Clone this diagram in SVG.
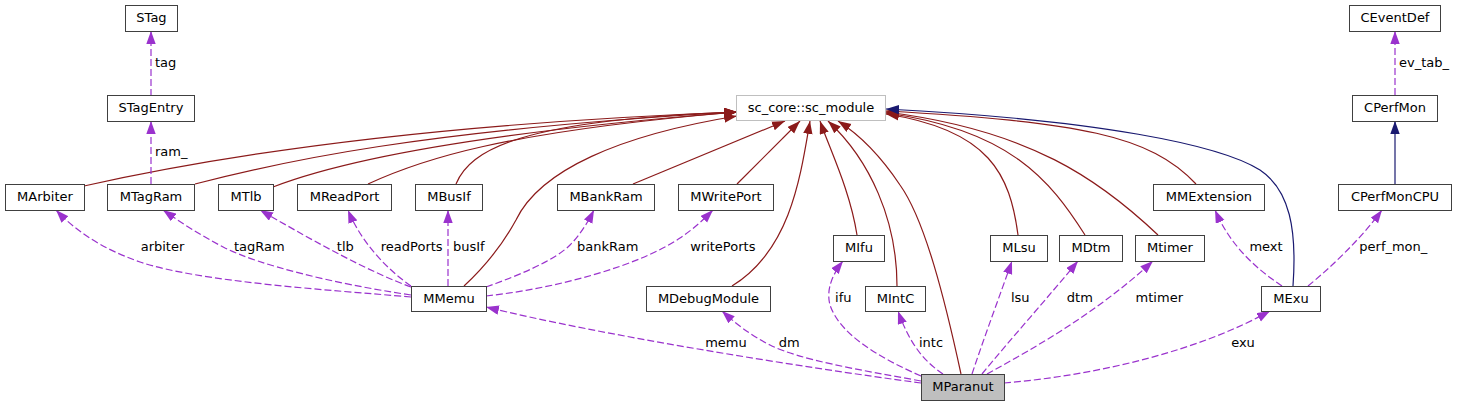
<svg xmlns="http://www.w3.org/2000/svg" width="1457" height="407" viewBox="0 0 1457 407">
<style>
.n rect{fill:#fff;stroke:#404040;stroke-width:1}
.n text,.lbl{font-family:"DejaVu Sans",Verdana,sans-serif;font-size:13px;fill:#000}
.n text{text-anchor:middle}
.lbl{text-anchor:middle}
.ls{text-anchor:start}
.inh{fill:none;stroke:#8b1a1a;stroke-width:1.2;marker-end:url(#ar)}
.pub{fill:none;stroke:#191970;stroke-width:1.2;marker-end:url(#ab)}
.use{fill:none;stroke:#9a32cd;stroke-width:1.2;stroke-dasharray:7,3;marker-end:url(#ap)}
</style>
<defs>
<marker id="ar" markerUnits="userSpaceOnUse" markerWidth="14" markerHeight="10" refX="13" refY="4.7" orient="auto"><path d="M0,0 L13,4.7 L0,9.4 z" fill="#8b1a1a"/></marker>
<marker id="ab" markerUnits="userSpaceOnUse" markerWidth="14" markerHeight="10" refX="13" refY="4.7" orient="auto"><path d="M0,0 L13,4.7 L0,9.4 z" fill="#191970"/></marker>
<marker id="ap" markerUnits="userSpaceOnUse" markerWidth="14" markerHeight="10" refX="13" refY="4.7" orient="auto"><path d="M0,0 L13,4.7 L0,9.4 z" fill="#9a32cd"/></marker>
</defs>
<rect width="1457" height="407" fill="#fff"/>
<g id="connectors">
<path class="inh" d="M84,186 C200,160 400,125 737,112"/>
<path class="inh" d="M195,184 C280,162 420,130 737,112"/>
<path class="inh" d="M273,187 C330,165 450,135 737,112"/>
<path class="inh" d="M368,184 C420,160 500,132 737,112"/>
<path class="inh" d="M456,184 C470,150 520,120 737,112"/>
<path class="inh" d="M464,286 C490,262 505,240 516,220 C540,170 620,135 737,116"/>
<path class="inh" d="M633,184 L785,121"/>
<path class="inh" d="M737,184 L800,121"/>
<path class="inh" d="M732,286 C790,250 800,180 810,121"/>
<path class="inh" d="M857,235 C850,190 830,150 820,121"/>
<path class="inh" d="M897,286 C897,220 870,160 828,121"/>
<path class="inh" d="M961,374 C945,300 925,220 900,185 C880,155 860,135 838,121"/>
<path class="inh" d="M1018,235 C1010,175 990,130 886,114"/>
<path class="inh" d="M1085,235 C1050,180 1010,130 886,113"/>
<path class="inh" d="M1158,235 C1100,180 1030,130 886,112"/>
<path class="inh" d="M1196,184 C1150,135 1080,122 886,111"/>
<path class="pub" d="M1293,286 C1297,230 1290,190 1260,170 C1220,145 1100,120 886,109"/>
<path class="pub" d="M1395,184 L1395,121"/>
<path class="use" d="M151,96 L151,31"/>
<path class="use" d="M151,184 L151,121"/>
<path class="use" d="M1395,95 L1395,31"/>
<path class="use" d="M411,297 C330,290 200,282 140,262 C100,248 75,230 56,210"/>
<path class="use" d="M411,295 C330,283 260,265 225,248 C200,235 180,222 163,210"/>
<path class="use" d="M411,287 C370,272 320,245 260,210"/>
<path class="use" d="M411,286 C385,268 360,240 348,210"/>
<path class="use" d="M448,286 L448,210"/>
<path class="use" d="M486,287 C520,275 555,260 570,245 C580,235 588,222 594,210"/>
<path class="use" d="M486,296 C560,288 640,265 680,238 C695,228 705,218 713,210"/>
<path class="use" d="M921,383 C800,367 600,335 486,307"/>
<path class="use" d="M921,381 C860,370 800,360 770,345 C750,335 735,323 722,311"/>
<path class="use" d="M921,376 C880,358 840,335 830,305 C826,290 832,275 843,261"/>
<path class="use" d="M943,374 C925,362 910,345 898,311"/>
<path class="use" d="M972,374 C985,335 1000,295 1012,261"/>
<path class="use" d="M982,374 C1010,340 1050,295 1078,261"/>
<path class="use" d="M987,374 C1040,345 1100,310 1153,261"/>
<path class="use" d="M1004,383 C1100,375 1200,350 1270,311"/>
<path class="use" d="M1282,286 C1255,268 1230,245 1215,210"/>
<path class="use" d="M1308,286 C1330,268 1360,240 1382,210"/>
<text class="lbl ls" x="155" y="67">tag</text>
<text class="lbl ls" x="155" y="156">ram_</text>
<text class="lbl ls" x="1399" y="67">ev_tab_</text>
<text class="lbl" x="162.5" y="251">arbiter</text>
<text class="lbl" x="259.3" y="251">tagRam</text>
<text class="lbl" x="345.3" y="251">tlb</text>
<text class="lbl" x="411.7" y="251">readPorts</text>
<text class="lbl" x="468.8" y="251">busIf</text>
<text class="lbl" x="607.7" y="251">bankRam</text>
<text class="lbl" x="722.8" y="251">writePorts</text>
<text class="lbl" x="726" y="347">memu</text>
<text class="lbl" x="789.3" y="347">dm</text>
<text class="lbl" x="843.3" y="302">ifu</text>
<text class="lbl" x="931" y="347">intc</text>
<text class="lbl" x="1020.3" y="302">lsu</text>
<text class="lbl" x="1079.8" y="302">dtm</text>
<text class="lbl" x="1159.3" y="302">mtimer</text>
<text class="lbl" x="1243" y="347">exu</text>
<text class="lbl" x="1266" y="251">mext</text>
<text class="lbl" x="1393.3" y="251">perf_mon_</text>
</g>
<g id="STag" class="n"><rect x="125.5" y="5.5" width="52" height="26"/><text x="151.5" y="22">STag</text></g>
<g id="STagEntry" class="n"><rect x="107.5" y="95.5" width="87" height="26"/><text x="151" y="112">STagEntry</text></g>
<g id="sc_module" class="n"><rect x="736.5" y="95.5" width="149" height="25" style="stroke:#bfbfbf"/><text x="811" y="112">sc_core::sc_module</text></g>
<g id="CEventDef" class="n"><rect x="1349.5" y="5.5" width="91" height="26"/><text x="1395" y="22">CEventDef</text></g>
<g id="CPerfMon" class="n"><rect x="1352.5" y="95.5" width="85" height="26"/><text x="1395" y="112">CPerfMon</text></g>
<g id="MArbiter" class="n"><rect x="5.5" y="184.5" width="79" height="26"/><text x="45" y="201">MArbiter</text></g>
<g id="MTagRam" class="n"><rect x="107.5" y="184.5" width="87" height="26"/><text x="151" y="201">MTagRam</text></g>
<g id="MTlb" class="n"><rect x="218.5" y="184.5" width="55" height="26"/><text x="246" y="201">MTlb</text></g>
<g id="MReadPort" class="n"><rect x="297.5" y="184.5" width="94" height="26"/><text x="344.5" y="201">MReadPort</text></g>
<g id="MBusIf" class="n"><rect x="415.5" y="184.5" width="67" height="26"/><text x="449" y="201">MBusIf</text></g>
<g id="MBankRam" class="n"><rect x="557.5" y="184.5" width="97" height="26"/><text x="606" y="201">MBankRam</text></g>
<g id="MWritePort" class="n"><rect x="678.5" y="184.5" width="95" height="26"/><text x="726" y="201">MWritePort</text></g>
<g id="MMExtension" class="n"><rect x="1153.5" y="184.5" width="111" height="26"/><text x="1209" y="201">MMExtension</text></g>
<g id="CPerfMonCPU" class="n"><rect x="1338.5" y="184.5" width="113" height="26"/><text x="1395" y="201">CPerfMonCPU</text></g>
<g id="MIfu" class="n"><rect x="833.5" y="235.5" width="51" height="26"/><text x="859" y="252">MIfu</text></g>
<g id="MLsu" class="n"><rect x="990.5" y="235.5" width="57" height="26"/><text x="1019" y="252">MLsu</text></g>
<g id="MDtm" class="n"><rect x="1059.5" y="235.5" width="63" height="26"/><text x="1091" y="252">MDtm</text></g>
<g id="Mtimer" class="n"><rect x="1135.5" y="235.5" width="69" height="26"/><text x="1170" y="252">Mtimer</text></g>
<g id="MMemu" class="n"><rect x="411.5" y="286.5" width="75" height="25"/><text x="449" y="303">MMemu</text></g>
<g id="MDebugModule" class="n"><rect x="646.5" y="286.5" width="124" height="25"/><text x="708.5" y="303">MDebugModule</text></g>
<g id="MIntC" class="n"><rect x="865.5" y="286.5" width="60" height="25"/><text x="895.5" y="303">MIntC</text></g>
<g id="MExu" class="n"><rect x="1261.5" y="286.5" width="59" height="25"/><text x="1291" y="303">MExu</text></g>
<g id="MParanut" class="n"><rect x="921.5" y="374.5" width="83" height="26" style="fill:#bfbfbf"/><text x="963" y="391">MParanut</text></g>
</svg>
